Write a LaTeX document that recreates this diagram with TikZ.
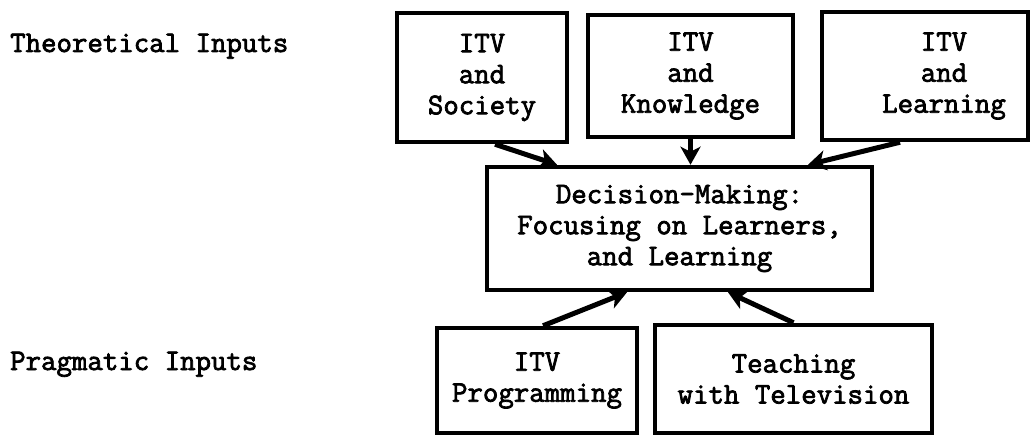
\documentclass[tikz,border=0pt]{standalone}
\usepackage{fontspec}
\usepackage{tikz}
\usetikzlibrary{arrows.meta,calc}

\newfontfamily\typefont{Latin Modern Mono}[FakeBold=2.5]
\newcommand{\boxfont}{\typefont\fontsize{30}{31}\selectfont}
\tikzset{
    box/.style={draw=black, line width=4.5pt, align=center, inner sep=0pt, font=\boxfont},
    lbl/.style={inner sep=0pt, anchor=base west, font=\boxfont},
    link/.style={line width=5pt, -{Stealth[length=18pt,width=20pt,inset=5pt]}}
}

\begin{document}
\begin{tikzpicture}[x=1pt, y=-1pt]
            \useasboundingbox (0,0) rectangle (1030,435);

            % Row labels
            \node[lbl] (theo) at (10,52) {Theoretical Inputs};
            \node[lbl] (prag) at (10,370) {Pragmatic Inputs};

            % Theoretical inputs
            \node[box, minimum width=170pt, minimum height=129pt] (soc) at (482,77.5) {ITV\\and\\Society};
            \node[box, minimum width=205pt, minimum height=122pt] (kno) at (690.5,76) {ITV\\and\\Knowledge};
            \node[box, minimum width=206pt, minimum height=128pt] (lrn) at (925,76) {\hspace*{38pt}ITV\\\hspace*{38pt}and\\\hspace*{38pt}Learning};

            % Decision box
            \node[box, minimum width=385pt, minimum height=123pt] (dec) at (679.5,228.5) {Decision-Making:\\Focusing on Learners,\\and Learning};

            % Pragmatic inputs
            \node[box, minimum width=200pt, minimum height=105pt] (prg) at (537,380.5) {ITV\\Programming};
            \node[box, minimum width=277pt, minimum height=108pt] (tea) at (793.5,379) {Teaching\\with Television};

            % Arrows into the decision box
            \draw[link] ([xshift=13pt]soc.south) -- ([xshift=-122.5pt]dec.north);
            \draw[link] (kno.south) -- (kno.south |- dec.north);
            \draw[link] ([xshift=-25pt]lrn.south) -- ([xshift=128.5pt]dec.north);
            \draw[link] ([xshift=6pt]prg.north) -- ([xshift=-52.5pt]dec.south);
            \draw[link] (tea.north) -- ([xshift=48.5pt]dec.south);
        \end{tikzpicture}
\end{document}
